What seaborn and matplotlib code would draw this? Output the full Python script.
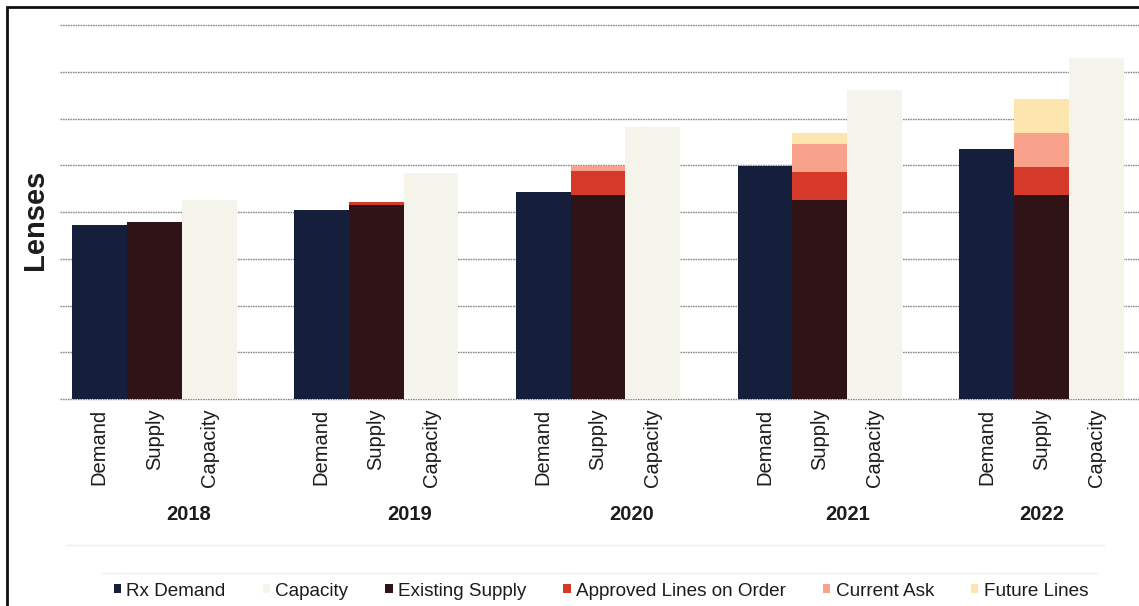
import numpy as np
import pandas as pd
import matplotlib
matplotlib.use("Agg")
import matplotlib.pyplot as plt
from matplotlib.patches import Patch, Rectangle
from matplotlib import transforms
import seaborn as sns

# ---- data (in units of one gridline step) ----
years = ["2018", "2019", "2020", "2021", "2022"]
bar_kinds = ["Demand", "Supply", "Capacity"]
rx_demand = [3.72, 4.05, 4.42, 4.98, 5.34]
capacity = [4.26, 4.83, 5.82, 6.62, 7.29]
existing_supply = [3.78, 4.14, 4.36, 4.25, 4.36]
approved_lines = [0.00, 0.08, 0.52, 0.61, 0.61]
current_ask = [0.00, 0.00, 0.11, 0.59, 0.73]
future_lines = [0.00, 0.00, 0.00, 0.23, 0.71]
legend_labels = ["Rx Demand", "Capacity", "Existing Supply",
                 "Approved Lines on Order", "Current Ask", "Future Lines"]

# ---- styling ----
C_DEMAND = "#151e3b"
C_CAPACITY = "#f4f4ea"
C_EXISTING = "#2f1316"
C_APPROVED = "#d4392a"
C_ASK = "#f9a28b"
C_FUTURE = "#fde6ad"
GRID = "#8a8a8a"
TEXT = "#1c1c1c"

W, H = 1139, 606
sns.set_theme(style="white")
plt.rcParams["font.family"] = ["Liberation Sans", "DejaVu Sans"]

fig = plt.figure(figsize=(W / 100, H / 100), dpi=100)
fig.patch.set_facecolor("white")

# plot area geometry (pixels)
ax_left_px, base_px, step_px, group_px = 60, 399, 46.75, 221.9
first_center_px = 154.2
ymin, ymax = -0.04, 8.1
ax = fig.add_axes([ax_left_px / W, (H - base_px - (-ymin) * step_px) / H,
                   (W - ax_left_px) / W, (ymax - ymin) * step_px / H])

group_width = 0.7425
bw = group_width / 3

# stacked supply drawn as overlapping cumulative bars, tallest first
stack = np.cumsum(np.array([existing_supply, approved_lines,
                            current_ask, future_lines]), axis=0)
layers = [
    ({"Demand": rx_demand, "Supply": stack[3], "Capacity": capacity},
     {"Demand": C_DEMAND, "Supply": C_FUTURE, "Capacity": C_CAPACITY}),
    ({"Demand": [0] * 5, "Supply": stack[2], "Capacity": [0] * 5},
     {"Demand": C_DEMAND, "Supply": C_ASK, "Capacity": C_CAPACITY}),
    ({"Demand": [0] * 5, "Supply": stack[1], "Capacity": [0] * 5},
     {"Demand": C_DEMAND, "Supply": C_APPROVED, "Capacity": C_CAPACITY}),
    ({"Demand": [0] * 5, "Supply": stack[0], "Capacity": [0] * 5},
     {"Demand": C_DEMAND, "Supply": C_EXISTING, "Capacity": C_CAPACITY}),
]
for values, pal in layers:
    rows = []
    for k in bar_kinds:
        for y, v in zip(years, values[k]):
            rows.append({"year": y, "kind": k, "value": float(v)})
    df = pd.DataFrame(rows)
    sns.barplot(data=df, x="year", y="value", hue="kind", order=years,
                hue_order=bar_kinds, palette=pal, width=group_width,
                dodge=True, gap=0, linewidth=0, saturation=1,
                errorbar=None, legend=False, ax=ax)

# axes limits and grid
x_left = -(first_center_px - ax_left_px) / group_px
ax.set_xlim(x_left, x_left + (W - ax_left_px) / group_px)
ax.set_ylim(ymin, ymax)
ax.set_yticks(range(0, 9))
ax.set_yticklabels([])
ax.tick_params(axis="y", length=0)
ax.yaxis.grid(True, color=GRID, linewidth=1.0, linestyle=(0, (1.2, 0.6)))
ax.xaxis.grid(False)
ax.set_axisbelow(True)
for s in ax.spines.values():
    s.set_visible(False)
ax.set_xlabel("")
ax.set_ylabel("")
ax.set_facecolor("none")

# bar labels along the category axis
tick_pos, tick_lab = [], []
for i in range(len(years)):
    for j, k in enumerate(bar_kinds):
        tick_pos.append(i + (j - 1) * bw)
        tick_lab.append(k)
ax.set_xticks(tick_pos)
ax.set_xticklabels(tick_lab, rotation=90, va="top", ha="center",
                   fontsize=14.5, color=TEXT)
ax.tick_params(axis="x", length=0, pad=5.5)

# year labels
year_shift = [0.153, 0.153, 0.153, 0.126, 0.0]
trans = transforms.blended_transform_factory(ax.transData, fig.transFigure)
for i, (y, sh) in enumerate(zip(years, year_shift)):
    ax.text(i + sh, 1 - 514 / H, y, transform=trans, ha="center",
            va="center", fontsize=14.5, fontweight="bold", color=TEXT,
            clip_on=False)

# axis title
fig.text(35 / W, 1 - 220 / H, "Lenses", rotation=90, ha="center",
         va="center", fontsize=21, fontweight="bold", color=TEXT)

# faint separator rules under the category labels
for ypx, x0, x1 in [(545, 65, 1104), (573, 102, 1097)]:
    fig.add_artist(plt.Line2D([x0 / W, x1 / W], [1 - ypx / H, 1 - ypx / H],
                              transform=fig.transFigure, color="#efefef",
                              linewidth=1))

# legend
handles = [Patch(facecolor=c, edgecolor="none") for c in
           [C_DEMAND, C_CAPACITY, C_EXISTING, C_APPROVED, C_ASK, C_FUTURE]]
fig.legend(handles, legend_labels, loc="center",
           bbox_to_anchor=(601 / W, 1 - 591 / H), ncol=6, frameon=False,
           handlelength=0.38, handleheight=0.38, handletextpad=0.3,
           columnspacing=1.95, prop={"size": 13.6},
           labelcolor=TEXT, borderaxespad=0)

# outer frame
fig.add_artist(Rectangle((7 / W, -0.1), 1.2, 1 - 7 / H + 0.1,
                         transform=fig.transFigure, fill=False,
                         edgecolor="#111111", linewidth=2.0))

fig.savefig("out.png", dpi=100, facecolor="white")
